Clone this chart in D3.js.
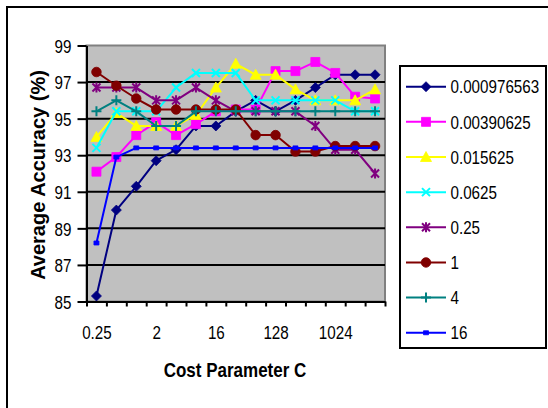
<!DOCTYPE html>
<html>
<head>
<meta charset="utf-8">
<script src="https://cdn.jsdelivr.net/npm/d3@7"></script>
<style>
  html, body { margin: 0; padding: 0; background: #ffffff; }
  svg { display: block; font-family: "Liberation Sans", Arial, Helvetica, sans-serif; }
</style>
</head>
<body>
<svg id="chart" width="548" height="408"></svg>
<script>
// Cost parameter C (2^-2 .. 2^12) and the labels printed under the axis
const costValues = ["0.25", "0.5", "1", "2", "4", "8", "16", "32", "64", "128", "256", "512", "1024", "2048", "4096"];
const costLabels = ["0.25", "2", "16", "128", "1024"];
const accuracyTicks = [85, 87, 89, 91, 93, 95, 97, 99];

// Kernel gamma values, one line each
const gammaNames = ["0.000976563", "0.00390625", "0.015625", "0.0625", "0.25", "1", "4", "16"];

// Average accuracy (%) for each gamma, in the order of costValues
const accGamma2m10 = [85.3, 90.0, 91.3, 92.7, 93.3, 94.6, 94.6, 95.4, 96.0, 95.4, 96.0, 96.7, 97.4, 97.4, 97.4];
const accGamma2m8  = [92.1, 92.9, 94.1, 94.8, 94.1, 94.7, 95.4, 95.5, 95.5, 97.6, 97.6, 98.1, 97.5, 96.2, 96.1];
const accGamma2m6  = [94.0, 95.3, 94.6, 94.6, 94.6, 95.2, 96.7, 98.0, 97.4, 97.4, 96.6, 96.0, 96.0, 96.0, 96.6];
const accGamma2m4  = [93.4, 95.4, 95.4, 95.4, 96.7, 97.5, 97.5, 97.5, 96.0, 96.0, 96.0, 96.0, 96.0, 95.4, 95.4];
const accGamma2m2  = [96.7, 96.7, 96.7, 96.0, 96.0, 96.7, 96.0, 95.4, 95.4, 95.4, 95.4, 94.6, 93.3, 93.3, 92.0];
const accGamma1    = [97.55, 96.8, 96.1, 95.5, 95.5, 95.5, 95.5, 95.5, 94.1, 94.1, 93.2, 93.2, 93.5, 93.5, 93.5];
const accGamma4    = [95.4, 96.0, 95.4, 94.6, 94.6, 95.4, 95.4, 95.4, 95.4, 95.4, 95.4, 95.4, 95.4, 95.4, 95.4];
const accGamma16   = [88.2, 92.9, 93.4, 93.4, 93.4, 93.4, 93.4, 93.4, 93.4, 93.4, 93.4, 93.4, 93.4, 93.4, 93.4];

const seriesColors  = ["#000080", "#FF00FF", "#FFFF00", "#00FFFF", "#800080", "#800000", "#008080", "#0000FF"];
const seriesMarkers = ["diamond", "square", "triangle", "cross", "star", "circle", "plus", "dash"];

const seriesValues = [accGamma2m10, accGamma2m8, accGamma2m6, accGamma2m4, accGamma2m2, accGamma1, accGamma4, accGamma16];
const series = gammaNames.map((name, i) => ({
  name, values: seriesValues[i], color: seriesColors[i], marker: seriesMarkers[i]
}));

// Marker shapes centred on the origin
const markerPaths = {
  diamond:  { d: "M0,-5L5,0L0,5L-5,0Z", fill: true },
  square:   { d: "M-4.5,-4.5h9v9h-9Z", fill: true },
  triangle: { d: "M0,-5.5L5.5,4.5L-5.5,4.5Z", fill: true },
  cross:    { d: "M-4,-4L4,4M-4,4L4,-4", fill: false },
  star:     { d: "M-4,-4L4,4M-4,4L4,-4M0,-5L0,5", fill: false },
  circle:   { d: d3.symbol(d3.symbolCircle, 72)(), fill: true },
  plus:     { d: "M-5,0L5,0M0,-5L0,5", fill: false },
  dash:     { d: "M-2.5,-2L2.5,-2L2.5,2L-2.5,2Z", fill: true }
};

const svg = d3.select("#chart");
const font = "\"Liberation Sans\", Arial, Helvetica, sans-serif";
const squeeze = 0.8;   // narrow glyph width used by all chart text

// Plot area
const plot = { left: 86.5, right: 385, top: 45.5, bottom: 301.5 };

const x = d3.scalePoint().domain(costValues).range([plot.left, plot.right]).padding(0.5);
const xEdge = d3.scaleLinear().domain([0, costValues.length]).range([plot.left, plot.right]);
const y = d3.scaleLinear().domain([85, 99]).range([plot.bottom, plot.top]);

// Outer chart frame
svg.append("rect")
  .attr("x", 7).attr("y", 7).attr("width", 620).attr("height", 520)
  .attr("fill", "#ffffff").attr("stroke", "#000000").attr("stroke-width", 2);

// Grey plot background
svg.append("rect")
  .attr("x", plot.left).attr("y", plot.top)
  .attr("width", plot.right - plot.left).attr("height", plot.bottom - plot.top)
  .attr("fill", "#C0C0C0").attr("stroke", "#808080").attr("stroke-width", 2);

// Horizontal gridlines
svg.append("g")
  .selectAll("line")
  .data(accuracyTicks.filter(v => v > 85 && v < 99))
  .join("line")
  .attr("x1", plot.left).attr("x2", plot.right)
  .attr("y1", d => y(d)).attr("y2", d => y(d))
  .attr("stroke", "#000000").attr("stroke-width", 2);

// Y axis
const yAxis = svg.append("g")
  .attr("transform", `translate(${plot.left},0)`)
  .call(d3.axisLeft(y).tickValues(accuracyTicks).tickSize(9).tickPadding(0).tickSizeOuter(0));
yAxis.select(".domain").attr("stroke", "#000").attr("stroke-width", 2);
yAxis.selectAll(".tick line").attr("stroke", "#000").attr("stroke-width", 2);
yAxis.selectAll(".tick text")
  .attr("font-family", font).attr("font-size", 19).attr("fill", "#000")
  .attr("x", -15 / squeeze).attr("dy", "0.35em")
  .attr("transform", `scale(${squeeze},1)`);

// X axis: tick marks on category boundaries
const xTicks = svg.append("g")
  .attr("transform", `translate(0,${plot.bottom})`)
  .call(d3.axisBottom(xEdge).tickValues(d3.range(costValues.length + 1)).tickSize(5).tickFormat("").tickSizeOuter(0));
xTicks.select(".domain").attr("stroke", "#000").attr("stroke-width", 2);
xTicks.selectAll(".tick line").attr("stroke", "#000").attr("stroke-width", 2);

// X axis: category labels
const xLabels = svg.append("g")
  .attr("transform", `translate(0,${plot.bottom})`)
  .call(d3.axisBottom(x).tickValues(costLabels).tickSize(0));
xLabels.select(".domain").remove();
xLabels.selectAll(".tick text")
  .attr("font-family", font).attr("font-size", 19).attr("fill", "#000")
  .attr("y", 37.5).attr("dy", 0)
  .attr("transform", `scale(${squeeze},1)`);

// Lines and markers
const line = d3.line().x((d, i) => x(costValues[i])).y(d => y(d));

series.forEach(s => {
  const g = svg.append("g");
  g.append("path")
    .attr("d", line(s.values))
    .attr("fill", "none").attr("stroke", s.color).attr("stroke-width", 2)
    .attr("stroke-linejoin", "round");
  const m = markerPaths[s.marker];
  g.selectAll("path.mk")
    .data(s.values)
    .join("path")
    .attr("class", "mk")
    .attr("transform", (d, i) => `translate(${x(costValues[i])},${y(d)})`)
    .attr("d", m.d)
    .attr("fill", m.fill ? s.color : "none")
    .attr("stroke", s.color)
    .attr("stroke-width", m.fill ? 0.8 : 2);
});

// Axis titles
svg.append("text")
  .attr("transform", `translate(235,376.5) scale(${squeeze + 0.01},1)`)
  .attr("text-anchor", "middle")
  .attr("font-family", font).attr("font-size", 21).attr("font-weight", "bold")
  .attr("fill", "#000")
  .text("Cost Parameter C");

svg.append("text")
  .attr("transform", "translate(45,175) rotate(-90)")
  .attr("text-anchor", "middle")
  .attr("font-family", font).attr("font-size", 20).attr("font-weight", "bold")
  .attr("fill", "#000")
  .text("Average Accuracy (%)");

// Legend
const legend = { x: 400, y: 66, w: 146, h: 282, first: 86.7, step: 35.15 };
svg.append("rect")
  .attr("x", legend.x).attr("y", legend.y).attr("width", legend.w).attr("height", legend.h)
  .attr("fill", "#ffffff").attr("stroke", "#000000").attr("stroke-width", 2);

const items = svg.append("g").selectAll("g")
  .data(series)
  .join("g")
  .attr("transform", (d, i) => `translate(0,${legend.first + i * legend.step})`);

items.append("line")
  .attr("x1", 406).attr("x2", 446).attr("y1", 0).attr("y2", 0)
  .attr("stroke", d => d.color).attr("stroke-width", 2);

items.append("path")
  .attr("transform", "translate(426,0)")
  .attr("d", d => markerPaths[d.marker].d)
  .attr("fill", d => markerPaths[d.marker].fill ? d.color : "none")
  .attr("stroke", d => d.color)
  .attr("stroke-width", d => markerPaths[d.marker].fill ? 0.8 : 2);

items.append("text")
  .attr("transform", `translate(450.5,0) scale(${squeeze},1)`)
  .attr("dy", "0.35em")
  .attr("font-family", font).attr("font-size", 19).attr("fill", "#000")
  .text(d => d.name);
</script>
</body>
</html>
